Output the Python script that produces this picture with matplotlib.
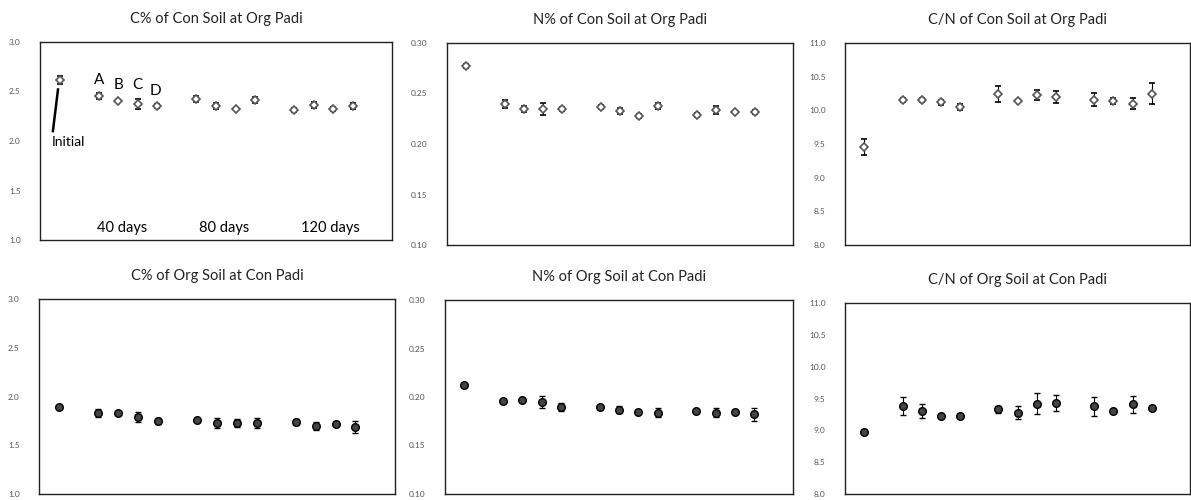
import numpy as np
import matplotlib
matplotlib.use("Agg")
import matplotlib.pyplot as plt

plt.rcParams['font.family'] = ['Lato', 'DejaVu Sans']

# sampling positions: initial, then 40 / 80 / 120 days, treatments A-D
x_pos = [1, 3, 4, 5, 6, 8, 9, 10, 11, 13, 14, 15, 16]

# Con soil at Org padi
c_con = [2.62, 2.45, 2.40, 2.37, 2.35, 2.42, 2.35, 2.32, 2.41, 2.31, 2.36, 2.32, 2.35]
c_con_err = [0.04, 0.03, 0.01, 0.05, 0.02, 0.03, 0.03, 0.01, 0.03, 0.02, 0.03, 0.02, 0.03]
n_con = [0.277, 0.240, 0.235, 0.235, 0.235, 0.237, 0.233, 0.228, 0.238, 0.229, 0.234, 0.232, 0.232]
n_con_err = [0.002, 0.004, 0.003, 0.006, 0.002, 0.002, 0.003, 0.002, 0.003, 0.002, 0.004, 0.001, 0.002]
cn_con = [9.45, 10.15, 10.15, 10.12, 10.05, 10.24, 10.14, 10.23, 10.20, 10.16, 10.14, 10.10, 10.25]
cn_con_err = [0.12, 0.03, 0.03, 0.04, 0.04, 0.12, 0.02, 0.07, 0.09, 0.10, 0.05, 0.08, 0.16]

# Org soil at Con padi
c_org = [1.89, 1.83, 1.83, 1.79, 1.75, 1.76, 1.73, 1.73, 1.73, 1.74, 1.70, 1.72, 1.69]
c_org_err = [0.01, 0.04, 0.02, 0.05, 0.03, 0.01, 0.05, 0.04, 0.05, 0.03, 0.04, 0.01, 0.06]
n_org = [0.212, 0.196, 0.197, 0.195, 0.190, 0.190, 0.187, 0.185, 0.184, 0.186, 0.184, 0.185, 0.182]
n_org_err = [0.001, 0.002, 0.002, 0.006, 0.004, 0.002, 0.004, 0.002, 0.005, 0.002, 0.005, 0.002, 0.007]
cn_org = [8.98, 9.38, 9.30, 9.23, 9.23, 9.33, 9.28, 9.42, 9.43, 9.38, 9.30, 9.41, 9.35]
cn_org_err = [0.01, 0.14, 0.11, 0.02, 0.02, 0.06, 0.10, 0.16, 0.12, 0.15, 0.03, 0.13, 0.02]

titles = ["C% of Con Soil at Org Padi", "N% of Con Soil at Org Padi", "C/N of Con Soil at Org Padi",
          "C% of Org Soil at Con Padi", "N% of Org Soil at Con Padi", "C/N of Org Soil at Con Padi"]
series = [(c_con, c_con_err), (n_con, n_con_err), (cn_con, cn_con_err),
          (c_org, c_org_err), (n_org, n_org_err), (cn_org, cn_org_err)]
y_ranges = [(1.0, 3.0, 0.5, "%.1f"), (0.10, 0.30, 0.05, "%.2f"), (8.0, 11.0, 0.5, "%.1f")] * 2

fig = plt.figure(figsize=(11.91, 5.0), dpi=100)

W, H = 1191, 500
# panel boxes in pixels: left, right, top, bottom
boxes = [(40, 392, 42, 240), (447, 793, 43, 245), (845, 1190, 43, 245),
         (39, 395, 299, 494), (445, 793, 300, 494), (845, 1190, 303, 494)]

axes = []
for i, (l, r, t, b) in enumerate(boxes):
    ax = fig.add_axes([l / W, 1 - b / H, (r - l) / W, (b - t) / H])
    vals, errs = series[i]
    if i < 3:
        ax.errorbar(x_pos, vals, yerr=errs, fmt='D', ms=4.5, mfc='white', mec='#555555', mew=1.2,
                    ecolor='black', elinewidth=0.8, capsize=2, capthick=0.8)
    else:
        ax.errorbar(x_pos, vals, yerr=errs, fmt='o', ms=5.5, mfc='#444444', mec='black', mew=1.0,
                    ecolor='black', elinewidth=0.8, capsize=2, capthick=0.8)
    lo, hi, step, fmt = y_ranges[i]
    ax.set_ylim(lo, hi)
    ax.set_xlim(0, 18)
    ax.set_yticks(np.arange(lo, hi + step / 2, step))
    ax.set_yticklabels([fmt % v for v in np.arange(lo, hi + step / 2, step)], fontsize=6, color='#555555')
    ax.set_xticks([])
    ax.tick_params(axis='y', length=0, pad=14)
    for sp in ax.spines.values():
        sp.set_linewidth(1.0)
        sp.set_color('#222222')
    ax.set_title(titles[i], fontsize=10.5, color='#222222', pad=14)
    axes.append(ax)

# labels on the first panel
ax = axes[0]
for lab, xx, yy in [("A", 3, 2.62), ("B", 4, 2.57), ("C", 5, 2.565), ("D", 5.9, 2.51)]:
    ax.text(xx, yy, lab, ha='center', va='center', fontsize=11, color='black')
ax.plot([0.92, 0.66], [2.52, 2.1], color='black', lw=1.8)
ax.text(0.62, 1.99, "Initial", ha='left', va='center', fontsize=10, color='black')
for lab, xx in [("40 days", 4.2), ("80 days", 9.4), ("120 days", 14.85)]:
    ax.text(xx, 1.12, lab, ha='center', va='center', fontsize=10.5, color='black')

plt.savefig('out.png', dpi=100)
